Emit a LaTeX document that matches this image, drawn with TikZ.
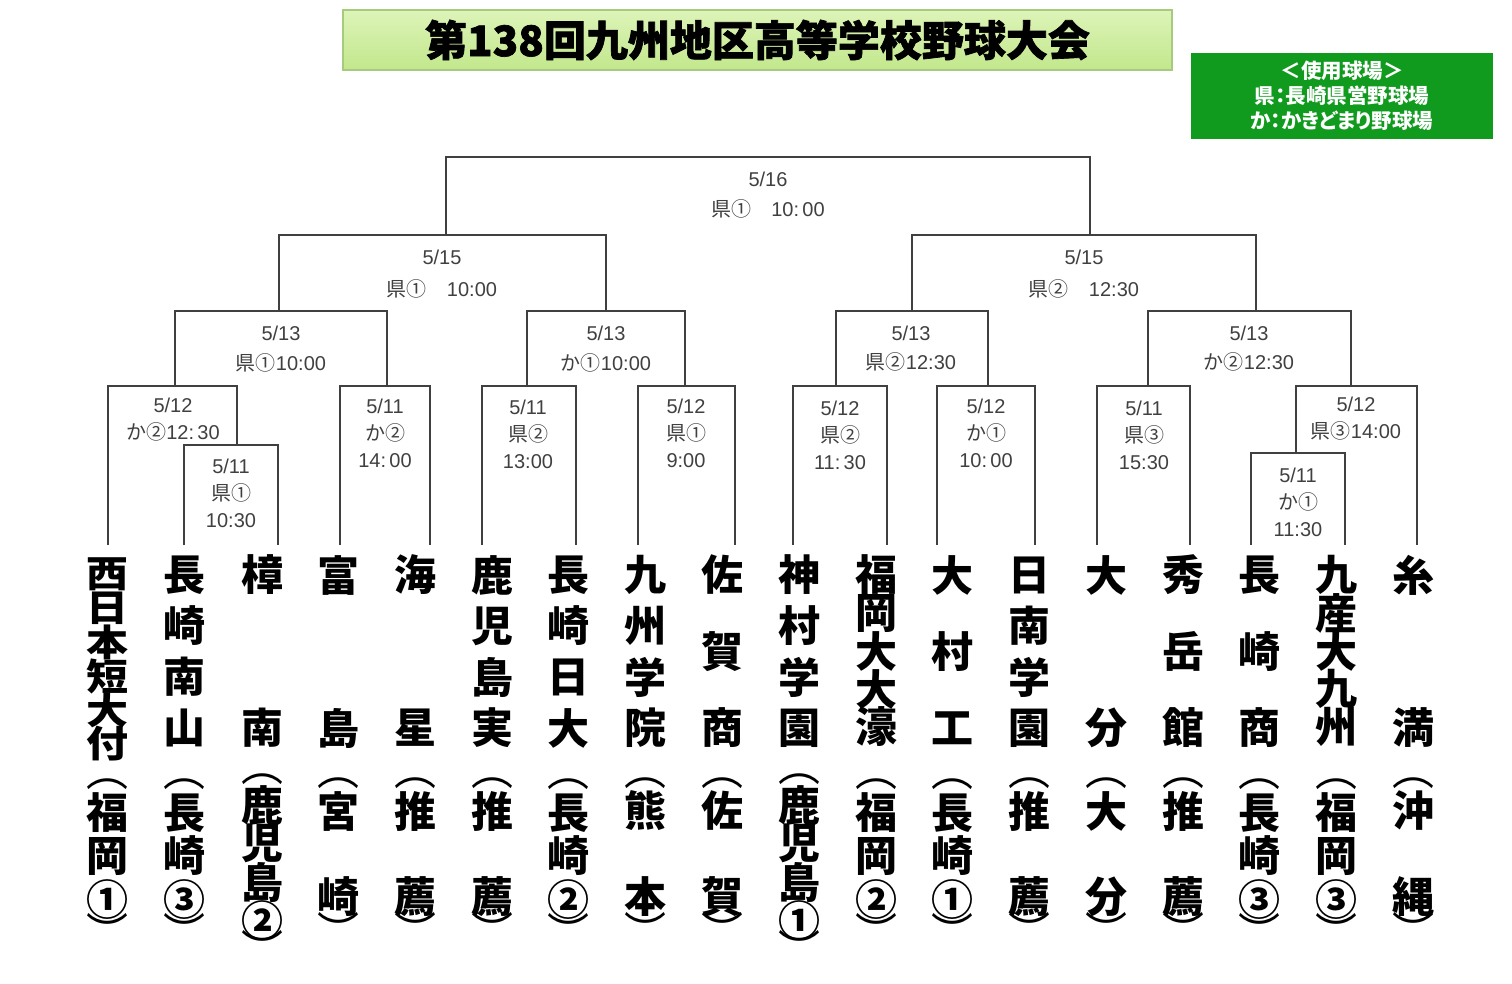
\documentclass[tikz,border=0pt]{standalone}
\usepackage{fontspec}
\XeTeXuseglyphmetrics=1
\setmainfont{Liberation Sans}
\newfontfamily\cjk{Noto Sans CJK JP}
\newfontfamily\cjkp{Noto Sans CJK JP}[RawFeature=+palt]
\newfontfamily\cjkheavy{Noto Sans CJK JP}[BoldFeatures={FakeBold=1.6}]
\definecolor{bline}{HTML}{404040}
\definecolor{blabel}{HTML}{404040}
\definecolor{legendgreen}{HTML}{109A1E}
\definecolor{titletop}{HTML}{DDF4B8}
\definecolor{titlebot}{HTML}{C2E78C}
\definecolor{titleedge}{HTML}{A6CB7E}
\tikzset{
  bracket/.style={line width=1.6pt, color=bline},
  datelabel/.style={color=blabel, font=\fontsize{20}{27}\selectfont, align=center, inner sep=0pt},
  teamchar/.style={font=\cjk\bfseries\fontsize{42}{42}\selectfont, inner sep=0pt},
  parenchar/.style={font=\cjk\fontsize{42}{42}\selectfont, inner sep=0pt},
  titlebox/.style={minimum width=829pt, minimum height=60pt, top color=titletop, bottom color=titlebot, draw=titleedge, line width=2pt, font=\cjkheavy\bfseries\fontsize{42}{42}\selectfont, inner sep=0pt},
  legendbox/.style={minimum width=302pt, minimum height=86pt, fill=legendgreen, text=white, font=\cjkp\bfseries\fontsize{20.5}{25}\selectfont, align=center, inner sep=0pt}
}
\def\squash#1{\scalebox{1}[0.88]{#1}}
\def\teamname[#1]#2(#3,#4,#5)#6{\foreach \c [count=\i] in {#6} {\node[teamchar] (#2-\i) at (#3,{#4+(\i-1)*#5}) {#1{\c}};}}
\def\preftwo#1(#2)#3#4{\node[parenchar] (#1-0) at (#2,783) {︵};
  \node[teamchar] (#1-1) at (#2,811) {#3};
  \node[teamchar] (#1-2) at (#2,897) {#4};
  \node[parenchar] (#1-9) at (#2,930) {︶};}
\def\prefthree#1(#2)#3#4#5{\node[parenchar] (#1-0) at (#2,784) {︵};
  \node[teamchar] (#1-1) at (#2,813) {#3};
  \node[teamchar] (#1-2) at (#2,856) {#4};
  \node[teamchar] (#1-3) at (#2,900) {#5};
  \node[parenchar] (#1-9) at (#2,931) {︶};}
\def\preffour#1(#2)#3#4#5#6{\node[parenchar] (#1-0) at (#2,779) {︵};
  \node[teamchar] (#1-1) at (#2,805) {#3};
  \node[teamchar] (#1-2) at (#2,843) {#4};
  \node[teamchar] (#1-3) at (#2,882) {#5};
  \node[teamchar] (#1-4) at (#2,921) {#6};
  \node[parenchar] (#1-9) at (#2,948) {︶};}

\begin{document}
\begin{tikzpicture}[x=1pt, y=-1pt]
		%%%%% START %%%%%
		\useasboundingbox (0,0) rectangle (1512,983);
		\fill[white] (0,0) rectangle (1512,983);
		
		\node[titlebox] (title) at (757.5,40) {第138回九州地区高等学校野球大会};
		\node[legendbox] (legend) at (1342,96) {＜使用球場＞\\県：長崎県営野球場\\か：かきどまり野球場};
		
		% bracket feet
		\coordinate (b1) at (108,545);
		\coordinate (b2) at (184,545);
		\coordinate (b3) at (278,545);
		\coordinate (b4) at (340,545);
		\coordinate (b5) at (430,545);
		\coordinate (b6) at (482,545);
		\coordinate (b7) at (576,545);
		\coordinate (b8) at (638,545);
		\coordinate (b9) at (735,545);
		\coordinate (b10) at (793,545);
		\coordinate (b11) at (887,545);
		\coordinate (b12) at (937,545);
		\coordinate (b13) at (1035,545);
		\coordinate (b14) at (1097,545);
		\coordinate (b15) at (1190,545);
		\coordinate (b16) at (1251,545);
		\coordinate (b17) at (1345,545);
		\coordinate (b18) at (1417,545);
		
		% match tops
		\coordinate (m1) at (237,445);
		\coordinate (m2) at (175,386);
		\coordinate (m3) at (387,386);
		\coordinate (m4) at (527,386);
		\coordinate (m5) at (685,386);
		\coordinate (m6) at (836,386);
		\coordinate (m7) at (988,386);
		\coordinate (m8) at (1148,386);
		\coordinate (m9) at (1296,453);
		\coordinate (m10) at (1351,386);
		\coordinate (q1) at (279,311);
		\coordinate (q2) at (606,311);
		\coordinate (q3) at (912,311);
		\coordinate (q4) at (1256,311);
		\coordinate (s1) at (446,235);
		\coordinate (s2) at (1090,235);
		\coordinate (f) at (768,157);
		
		\draw[bracket] (b2) |- (m1) -| (b3);
		\draw[bracket] (b1) |- (m2) -| (m1);
		\draw[bracket] (b4) |- (m3) -| (b5);
		\draw[bracket] (b6) |- (m4) -| (b7);
		\draw[bracket] (b8) |- (m5) -| (b9);
		\draw[bracket] (b10) |- (m6) -| (b11);
		\draw[bracket] (b12) |- (m7) -| (b13);
		\draw[bracket] (b14) |- (m8) -| (b15);
		\draw[bracket] (b16) |- (m9) -| (b17);
		\draw[bracket] (m9) |- (m10) -| (b18);
		\draw[bracket] (m2) |- (q1) -| (m3);
		\draw[bracket] (m4) |- (q2) -| (m5);
		\draw[bracket] (m6) |- (q3) -| (m7);
		\draw[bracket] (m8) |- (q4) -| (m10);
		\draw[bracket] (q1) |- (s1) -| (q2);
		\draw[bracket] (q3) |- (s2) -| (q4);
		\draw[bracket] (s1) |- (f) -| (s2);
		
		% dates and grounds
		\node[datelabel] (d-f) at (768,195) {5/16\\[3pt]{\cjk 県①}\quad 10:\,00};
		\node[datelabel] (d-s1) at (442,274) {5/15\\[5pt]{\cjk 県①}\quad 10:00};
		\node[datelabel] (d-s2) at (1084,274) {5/15\\[5pt]{\cjk 県②}\quad 12:30};
		\node[datelabel] (d-q1) at (281,349) {5/13\\[3pt]{\cjk 県①}10:00};
		\node[datelabel] (d-q2) at (606,349) {5/13\\[3pt]{\cjk か①}10:00};
		\node[datelabel] (d-q3) at (911,349) {5/13\\[2pt]{\cjk 県②}12:30};
		\node[datelabel] (d-q4) at (1249,349) {5/13\\[2pt]{\cjk か②}12:30};
		\node[datelabel] (d-m2) at (173,420) {5/12\\{\cjk か②}12:\,30};
		\node[datelabel] (d-m10) at (1356,419) {5/12\\{\cjk 県③}14:00};
		\node[datelabel] (d-m1) at (231,493) {5/11\\{\cjk 県①}\\10:30};
		\node[datelabel] (d-m3) at (385,433) {5/11\\{\cjk か②}\\14:\,00};
		\node[datelabel] (d-m4) at (528,434) {5/11\\{\cjk 県②}\\13:00};
		\node[datelabel] (d-m5) at (686,433) {5/12\\{\cjk 県①}\\9:00};
		\node[datelabel] (d-m6) at (840,435) {5/12\\{\cjk 県②}\\11:\,30};
		\node[datelabel] (d-m7) at (986,433) {5/12\\{\cjk か①}\\10:\,00};
		\node[datelabel] (d-m8) at (1144,435) {5/11\\{\cjk 県③}\\15:30};
		\node[datelabel] (d-m9) at (1298,502) {5/11\\{\cjk か①}\\11:30};
		
		% schools
		\teamname[\squash]{t1}(107,574,34){西,日,本,短,大,付}
		\teamname[]{t2}(184,575,51){長,崎,南,山}
		\teamname[]{t3}(262,575,153){樟,南}
		\teamname[]{t4}(338,575,153){富,島}
		\teamname[]{t5}(415,575,153){海,星}
		\teamname[]{t6}(492,575,51){鹿,児,島,実}
		\teamname[]{t7}(568,575,51){長,崎,日,大}
		\teamname[]{t8}(645,575,51){九,州,学,院}
		\teamname[]{t9}(722,575,76.5){佐,賀,商}
		\teamname[]{t10}(799,575,51){神,村,学,園}
		\teamname[]{t11}(876,575,38){福,岡,大,大,濠}
		\teamname[]{t12}(952,575,76.5){大,村,工}
		\teamname[]{t13}(1029,575,51){日,南,学,園}
		\teamname[]{t14}(1106,575,153){大,分}
		\teamname[]{t15}(1183,575,76.5){秀,岳,館}
		\teamname[]{t16}(1259,575,76.5){長,崎,商}
		\teamname[]{t17}(1336,575,38){九,産,大,九,州}
		\teamname[]{t18}(1413,575,153){糸,満}
		
		% prefectures
		\prefthree{p1}(107){福}{岡}{①}
		\prefthree{p2}(184){長}{崎}{③}
		\preffour{p3}(262){鹿}{児}{島}{②}
		\preftwo{p4}(338){宮}{崎}
		\preftwo{p5}(415){推}{薦}
		\preftwo{p6}(492){推}{薦}
		\prefthree{p7}(568){長}{崎}{②}
		\preftwo{p8}(645){熊}{本}
		\preftwo{p9}(722){佐}{賀}
		\preffour{p10}(799){鹿}{児}{島}{①}
		\prefthree{p11}(876){福}{岡}{②}
		\prefthree{p12}(952){長}{崎}{①}
		\preftwo{p13}(1029){推}{薦}
		\preftwo{p14}(1106){大}{分}
		\preftwo{p15}(1183){推}{薦}
		\prefthree{p16}(1259){長}{崎}{③}
		\prefthree{p17}(1336){福}{岡}{③}
		\preftwo{p18}(1413){沖}{縄}
		
		%%%%% END %%%%%
\end{tikzpicture}
\end{document}
